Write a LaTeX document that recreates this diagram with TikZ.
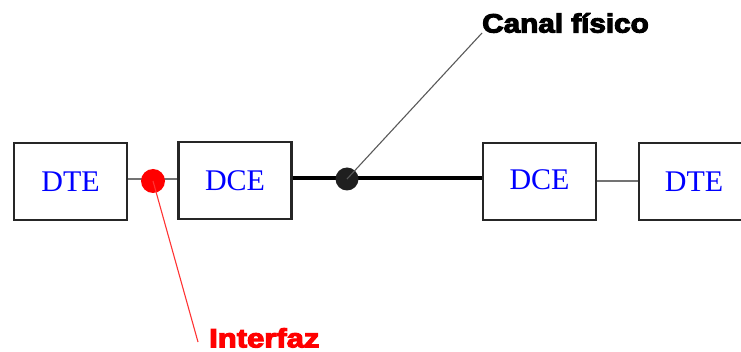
\documentclass[tikz,border=0pt]{standalone}
\usepackage{fontspec}
\setmainfont{Liberation Serif}
\newfontfamily\labelfont{Liberation Sans Bold}[FakeBold=4]
\begin{document}
\begin{tikzpicture}[x=1pt,y=-1pt,
  unit/.style={draw=black!85,line width=2.4pt,minimum width=113pt,minimum height=77pt,inner sep=0pt,
    font=\fontsize{30}{30}\selectfont,text=blue},
  thinlink/.style={draw=black!55,line width=1.1pt},
  thicklink/.style={draw=black,line width=4.5pt},
  lbl/.style={font=\labelfont\fontsize{26.5}{26.5}\selectfont,inner sep=0pt}]
\useasboundingbox (0,0) rectangle (741,352);
\node[unit] (dte1) at (70.5,181.5) {DTE};
\node[unit] (dce1) at (235,180.5) {DCE};
\node[unit] (dce2) at (539.5,181.5) {\raisebox{3pt}{DCE}};
\node[unit,minimum width=110pt] (dte2) at (694,181.5) {DTE};
\draw[thinlink] (dte1.east |- 0,179) -- (dce1.west |- 0,179);
\draw[thinlink] (dce2.east |- 0,181) -- (dte2.west |- 0,181);
\draw[thicklink] (dce1.east |- 0,178) -- (dce2.west |- 0,178);
\node[circle,fill=black!88,minimum size=23pt,inner sep=0pt] (bdot) at (347,179) {};
\node[circle,fill=red,minimum size=24pt,inner sep=0pt] (rdot) at (153,181) {};
\node[lbl,anchor=south west] (canal) at (482,33) {\scalebox{1.12}[1]{Canal físico}};
\node[lbl,anchor=north west,text=red] (inter) at (209,328) {\scalebox{1.17}[1]{Interfaz}};
\draw[draw=black!65,line width=1.1pt] (bdot.center) -- (canal.south west);
\draw[draw=red!80,line width=1.1pt] (rdot.center) -- ([xshift=-11pt,yshift=-14pt]inter.north west);
\end{tikzpicture}
\end{document}
